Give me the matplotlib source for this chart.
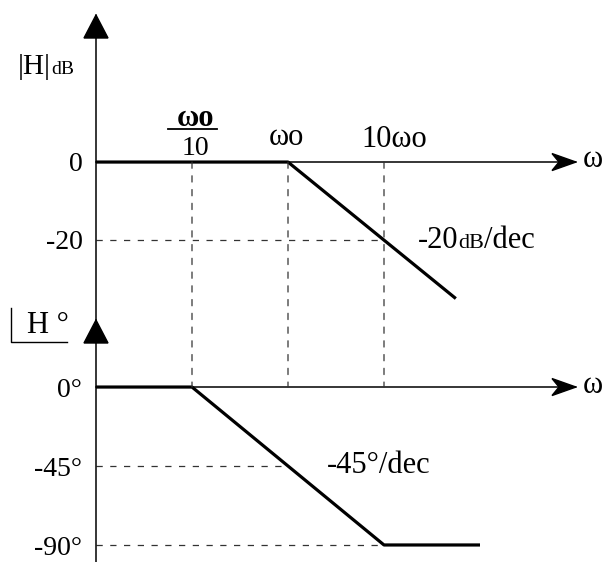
import matplotlib
matplotlib.use('Agg')
import matplotlib.pyplot as plt
import matplotlib.transforms as mtransforms
from matplotlib.patches import Polygon, ConnectionPatch
from matplotlib.lines import Line2D

plt.rcParams['font.family'] = ['Liberation Serif', 'DejaVu Serif']

# asymptotic bode data (w in units of wo)
mag_w = [0.01, 1, 56]
mag_db = [0, 0, -35]
ph_w = [0.01, 0.1, 10, 100]
ph_deg = [0, 0, -90, -90]

freq_marks = [0.1, 1, 10]
mag_ticks = [0, -20]
mag_tick_labels = ['0', '-20']
ph_ticks = [0, -45, -90]
ph_tick_labels = ['0°', '-45°', '-90°']

# dashed guides: (level, up to w)
mag_guides = [(-20, 10)]
ph_guides = [(-45, 1), (-90, 10)]

W, H = 605, 562
fig = plt.figure(figsize=(W / 100, H / 100), dpi=100)
fig.patch.set_facecolor('white')


def fr(x0, y0, x1, y1):
    return [x0 / W, 1 - y1 / H, (x1 - x0) / W, (y1 - y0) / H]


ax1 = fig.add_axes(fr(96, 15, 576, 320))
ax2 = fig.add_axes(fr(96, 320, 576, 562))
for ax in (ax1, ax2):
    ax.set_xscale('log')
    ax.set_xlim(1e-2, 1e3)
    ax.axis('off')
ax1.set_ylim(-40.5, 37.7)
ax2.set_ylim(-99.7, 38.2)

LW_AX = 1.1
LW_CURVE = 2.3
DASH = dict(color='#333333', lw=0.9, linestyle=(0, (5, 6)))
FS = 20     # tick labels
FL = 22     # other labels


def px(x, y, base):
    # transform taking pixel offsets to display, anchored at (x, y) of base
    return mtransforms.ScaledTranslation(x, y, base)


# axes lines with arrowheads
for ax in (ax1, ax2):
    ax.plot([0, 0], [0, 1], transform=ax.transAxes, color='k', lw=LW_AX, clip_on=False)
    ax.axhline(0, color='k', lw=LW_AX, clip_on=False)
    ax.add_artist(Polygon([(0, 0), (-12, -23), (12, -23)], closed=True,
                          transform=px(0, 1, ax.transAxes), color='k', clip_on=False))
    ax.add_artist(Polygon([(0, 0), (-24, 8.5), (-17, 0), (-24, -8.5)], closed=True,
                          transform=px(1, 0, ax.get_yaxis_transform()), color='k', clip_on=False))

# dashed guides
for lvl, w in mag_guides:
    ax1.plot([mag_w[0], w], [lvl, lvl], **DASH, zorder=1)
for lvl, w in ph_guides:
    ax2.plot([ph_w[0], w], [lvl, lvl], **DASH, zorder=1)
for w in freq_marks:
    cp = ConnectionPatch(xyA=(w, 0), coordsA=ax1.transData, xyB=(w, 0), coordsB=ax2.transData,
                         color='#333333', lw=0.9, linestyle=(0, (5, 6)), zorder=0.5)
    fig.add_artist(cp)

# asymptotes
ax1.plot(mag_w, mag_db, color='k', lw=LW_CURVE, solid_capstyle='butt', clip_on=False, zorder=3)
ax2.plot(ph_w, ph_deg, color='k', lw=LW_CURVE, solid_capstyle='butt', clip_on=False, zorder=3)

renderer = fig.canvas.get_renderer()


def label(ax, xy, dx, dy, parts, xycoords='data', ha='left', weight='normal'):
    # parts: list of (text, size); drawn left to right on one baseline
    if ha == 'center':
        total = 0
        for s, size in parts:
            t = ax.annotate(s, xy=xy, xycoords=xycoords, xytext=(0, 0), textcoords='offset pixels',
                            fontsize=size, fontweight=weight, va='baseline', annotation_clip=False)
            total += t.get_window_extent(renderer).width
            t.remove()
        dx -= total / 2
    for s, size in parts:
        t = ax.annotate(s, xy=xy, xycoords=xycoords, xytext=(dx, dy), textcoords='offset pixels',
                        fontsize=size, fontweight=weight, ha=ha if ha == 'right' else 'left',
                        va='baseline', annotation_clip=False)
        dx += t.get_window_extent(renderer).width
    return t


# tick labels
for v, s in zip(mag_ticks, mag_tick_labels):
    label(ax1, (0, v), -13, -9, [(s, FS)], xycoords=ax1.get_yaxis_transform(), ha='right')
for v, s in zip(ph_ticks, ph_tick_labels):
    label(ax2, (0, v), -14, -10, [(s, FS)], xycoords=ax2.get_yaxis_transform(), ha='right')

# frequency labels
label(ax1, (freq_marks[0], 0), 3, 36, [('ωo', FL)], ha='center', weight='bold')
ax1.add_artist(Line2D([-24, 25], [33.5, 33.5], transform=px(freq_marks[0], 0, ax1.transData),
                      color='k', lw=1.3, clip_on=False))
label(ax1, (freq_marks[0], 0), 3, 7, [('10', FS)], ha='center')
label(ax1, (freq_marks[1], 0), -2, 17, [('ωo', FL)], ha='center')
label(ax1, (freq_marks[2], 0), 10, 15, [('10ωo', FL)], ha='center')

# axis names
label(ax1, (1, 0), 7, -5, [('ω', FL)], xycoords=ax1.get_yaxis_transform())
label(ax2, (1, 0), 7, -6, [('ω', FL)], xycoords=ax2.get_yaxis_transform())
label(ax1, (0, 1), -78, -59, [('|H|', 21), ('dB', 14)], xycoords='axes fraction')
label(ax2, (0, 1), -69, -13, [('H °', FL)], xycoords='axes fraction')
ax2.add_artist(Line2D([-85, -85, -29], [12, -22, -22], transform=px(0, 1, ax2.transAxes),
                      color='k', lw=1.0, clip_on=False))

# slope labels
label(ax1, (10, -20), 34, -8, [('-20', 22), ('dB', 16), ('/dec', 22)])
label(ax2, (1, -45), 39, -7, [('-45°/dec', FL)])

fig.savefig('out.png', dpi=100, facecolor='white')
